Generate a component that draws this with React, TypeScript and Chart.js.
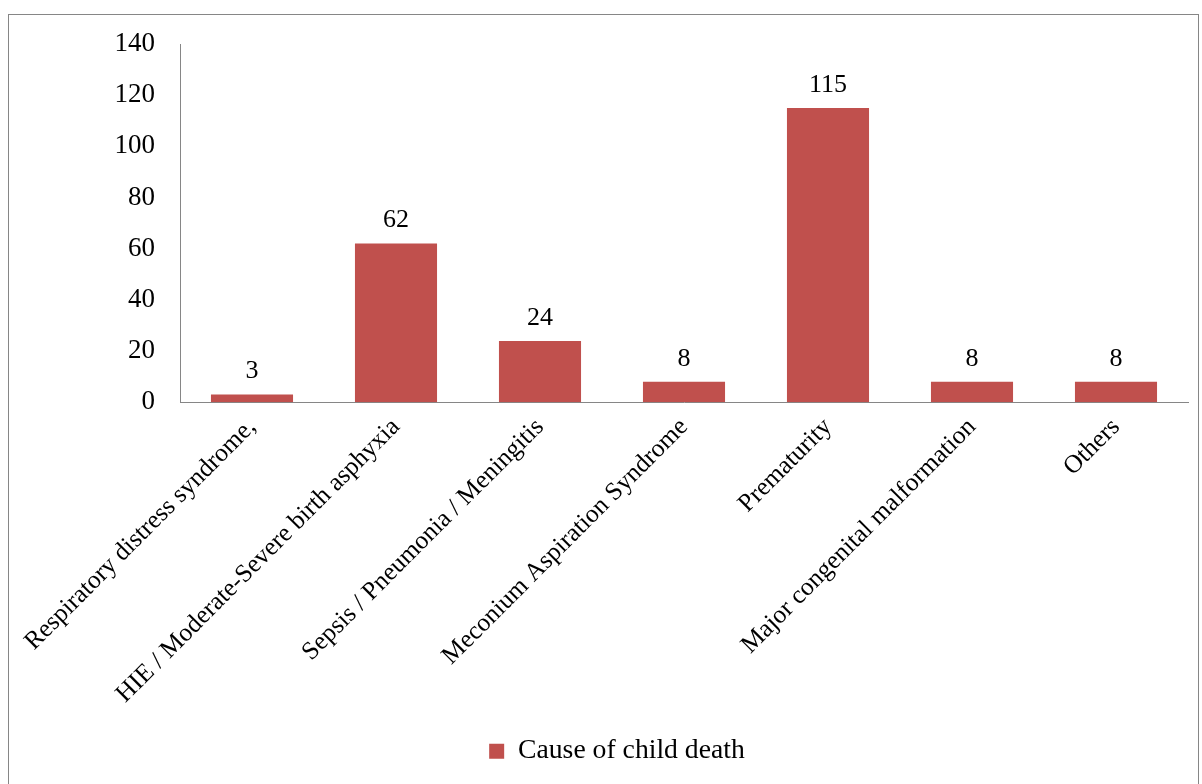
import React, { useEffect, useRef } from "react";
import { Chart, registerables } from "chart.js";

Chart.register(...registerables);

const categories: string[] = [
  "Respiratory distress syndrome,",
  "HIE / Moderate-Severe birth asphyxia",
  "Sepsis / Pneumonia / Meningitis",
  "Meconium Aspiration Syndrome",
  "Prematurity",
  "Major congenital malformation",
  "Others",
];
const deaths: number[] = [3, 62, 24, 8, 115, 8, 8];
const seriesName = "Cause of child death";
const yMax = 140;
const yStep = 20;

const FONT = "'Liberation Serif', 'Times New Roman', serif";

const valueLabels = {
  id: "valueLabels",
  afterDatasetsDraw(chart: any) {
    const ctx = chart.ctx;
    ctx.save();
    ctx.font = `26px ${FONT}`;
    ctx.fillStyle = "#000";
    ctx.textAlign = "center";
    ctx.textBaseline = "bottom";
    chart.data.datasets.forEach((ds: any, di: number) => {
      const meta = chart.getDatasetMeta(di);
      meta.data.forEach((el: any, i: number) => {
        ctx.fillText(String(ds.data[i]), el.x, el.y - 10);
      });
    });
    ctx.restore();
  },
};

export default function App() {
  const ref = useRef<HTMLCanvasElement | null>(null);
  useEffect(() => {
    if (!ref.current) return;
    const chart = new Chart(ref.current, {
      type: "bar",
      data: {
        labels: categories,
        datasets: [
          {
            label: seriesName,
            data: deaths,
            backgroundColor: "#C0504D",
            borderWidth: 0,
            categoryPercentage: 1,
            barPercentage: 0.57,
          },
        ],
      },
      options: {
        animation: false,
        responsive: false,
        devicePixelRatio: 1,
        layout: { padding: { top: 29, right: 10, left: 37, bottom: 0 } },
        plugins: {
          legend: {
            position: "bottom",
            labels: {
              font: { family: FONT, size: 27.7 },
              color: "#000",
              boxWidth: 15,
              boxHeight: 15,
              padding: 10,
            },
          },
          tooltip: { enabled: false },
        },
        scales: {
          x: {
            grid: { display: false, drawTicks: false },
            border: { display: true, color: "#868686", width: 1 },
            ticks: {
              minRotation: 45,
              maxRotation: 45,
              padding: 10,
              color: "#000",
              font: { family: FONT, size: 25.5 },
            },
            afterFit: (s: any) => {
              s.height = 325;
              s.paddingLeft = 0;
              s.paddingRight = 0;
            },
          },
          y: {
            min: 0,
            max: yMax,
            grid: { display: false, drawTicks: false },
            border: { display: true, color: "#868686", width: 1 },
            ticks: {
              stepSize: yStep,
              padding: 25,
              color: "#000",
              font: { family: FONT, size: 27 },
            },
            afterFit: (s: any) => {
              s.width = 134;
              s.paddingTop = 0;
              s.paddingBottom = 0;
            },
          },
        },
      },
      plugins: [valueLabels],
    });
    return () => chart.destroy();
  }, []);

  return (
    <div
      style={{
        position: "fixed",
        left: 8,
        top: 14,
        width: 1191,
        height: 790,
        boxSizing: "border-box",
        border: "1px solid #868686",
        background: "#fff",
      }}
    >
      <canvas ref={ref} width={1189} height={760} style={{ display: "block" }} />
    </div>
  );
}
